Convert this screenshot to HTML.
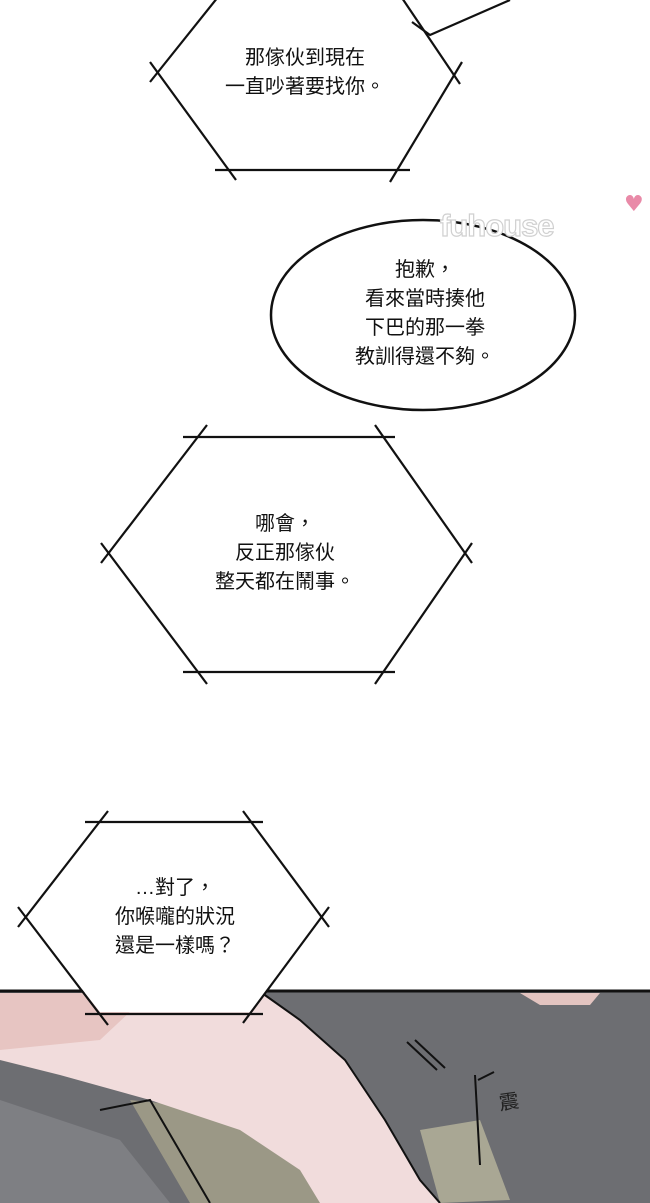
<!DOCTYPE html>
<html><head><meta charset="utf-8"><style>
html,body{margin:0;padding:0;background:#fff;}
#c{position:relative;width:650px;height:1203px;overflow:hidden;background:#fff;}
svg{position:absolute;left:0;top:0;}
.t{position:absolute;font-family:"Liberation Sans","Noto Sans CJK TC",sans-serif;font-size:20px;line-height:29px;color:#111;text-align:center;white-space:nowrap;}
.wm{position:absolute;left:440px;top:208px;font-family:"Liberation Sans",sans-serif;font-weight:bold;font-size:31px;color:#fff;-webkit-text-stroke:1.2px #d0d0d0;letter-spacing:-1px;}
.heart{position:absolute;left:624px;top:192px;color:#e98aa8;font-size:22px;font-family:"DejaVu Sans",sans-serif;}
</style></head><body><div id="c">
<svg width="650" height="1203" viewBox="0 0 650 1203">
<g stroke="#111" stroke-width="2.2" fill="none" stroke-linecap="butt">
<polygon points="220,-5 400,-5 455,72 400,170 228,170 157,72" fill="#fff" stroke="none"/>
<line x1="226" y1="-13" x2="150" y2="82"/>
<line x1="150" y1="62" x2="236" y2="180"/>
<line x1="215" y1="170" x2="410" y2="170"/>
<line x1="390" y1="182" x2="462" y2="62"/>
<line x1="460" y1="84" x2="400" y2="-5"/>
<polyline points="510,0 430,35 412,22"/>
<ellipse cx="423" cy="315" rx="152" ry="95" fill="#fff" stroke-width="2.5"/>
<polygon points="200,437 385,437 465,553 385,672 200,672 108,553" fill="#fff" stroke="none"/>
<line x1="183" y1="437" x2="395" y2="437"/>
<line x1="375" y1="425" x2="472" y2="563"/>
<line x1="472" y1="543" x2="375" y2="684"/>
<line x1="395" y1="672" x2="183" y2="672"/>
<line x1="207" y1="684" x2="101" y2="543"/>
<line x1="101" y1="563" x2="207" y2="425"/>
</g>
<rect x="0" y="991" width="650" height="212" fill="#6d6e72"/>
<path d="M0,1100 L120,1140 L170,1203 L0,1203Z" fill="#7e7f83"/>
<path d="M130,1100 L230,1110 L330,1190 L340,1203 L190,1203Z" fill="#9b9886"/>
<path d="M420,1130 L480,1120 L510,1200 L440,1203Z" fill="#a9a794"/>
<path d="M0,993 L260,993 L300,1020 L345,1060 L385,1120 L420,1180 L440,1203 L320,1203 L300,1170 L240,1130 L150,1100 L60,1075 L0,1060Z" fill="#f1dcdc"/>
<path d="M0,993 L150,993 L100,1040 L0,1050Z" fill="#e7c5c2"/>
<path d="M520,993 L600,993 L590,1005 L540,1005Z" fill="#e3c4c0"/>
<g stroke="#111" stroke-width="2" fill="none">
<line x1="0" y1="991" x2="650" y2="991" stroke-width="3"/>
<path d="M262,993 L300,1020 L345,1060 L385,1120 L420,1180 L440,1203"/>
<path d="M100,1110 L150,1100 L210,1203"/>
<path d="M407,1042 L437,1070 M415,1040 L445,1068"/>
<path d="M475,1075 L480,1165 M478,1080 L494,1072"/>
</g>
<text x="500" y="1110" font-family="Noto Sans CJK TC" font-size="20" fill="#222" transform="rotate(-8 500 1110)">震</text>
<polygon points="100,822 250,822 322,917 250,1012 100,1012 25,917" fill="#fff"/>
<g stroke="#111" stroke-width="2.2">
<line x1="85" y1="822" x2="263" y2="822"/>
<line x1="243" y1="811" x2="329" y2="927"/>
<line x1="329" y1="907" x2="243" y2="1023"/>
<line x1="263" y1="1014" x2="85" y2="1014"/>
<line x1="108" y1="1025" x2="18" y2="907"/>
<line x1="18" y1="927" x2="108" y2="811"/>
</g>
</svg>
<div class="wm">fuhouse</div>
<div class="heart">♥</div>
<div class="t" style="left:190px;top:44px;width:230px;">那傢伙到現在<br>一直吵著要找你。</div>
<div class="t" style="left:310px;top:256px;width:230px;">抱歉，<br>看來當時揍他<br>下巴的那一拳<br>教訓得還不夠。</div>
<div class="t" style="left:170px;top:510px;width:230px;">哪會，<br>反正那傢伙<br>整天都在鬧事。</div>
<div class="t" style="left:60px;top:874px;width:230px;">…對了，<br>你喉嚨的狀況<br>還是一樣嗎？</div>
</div></body></html>
